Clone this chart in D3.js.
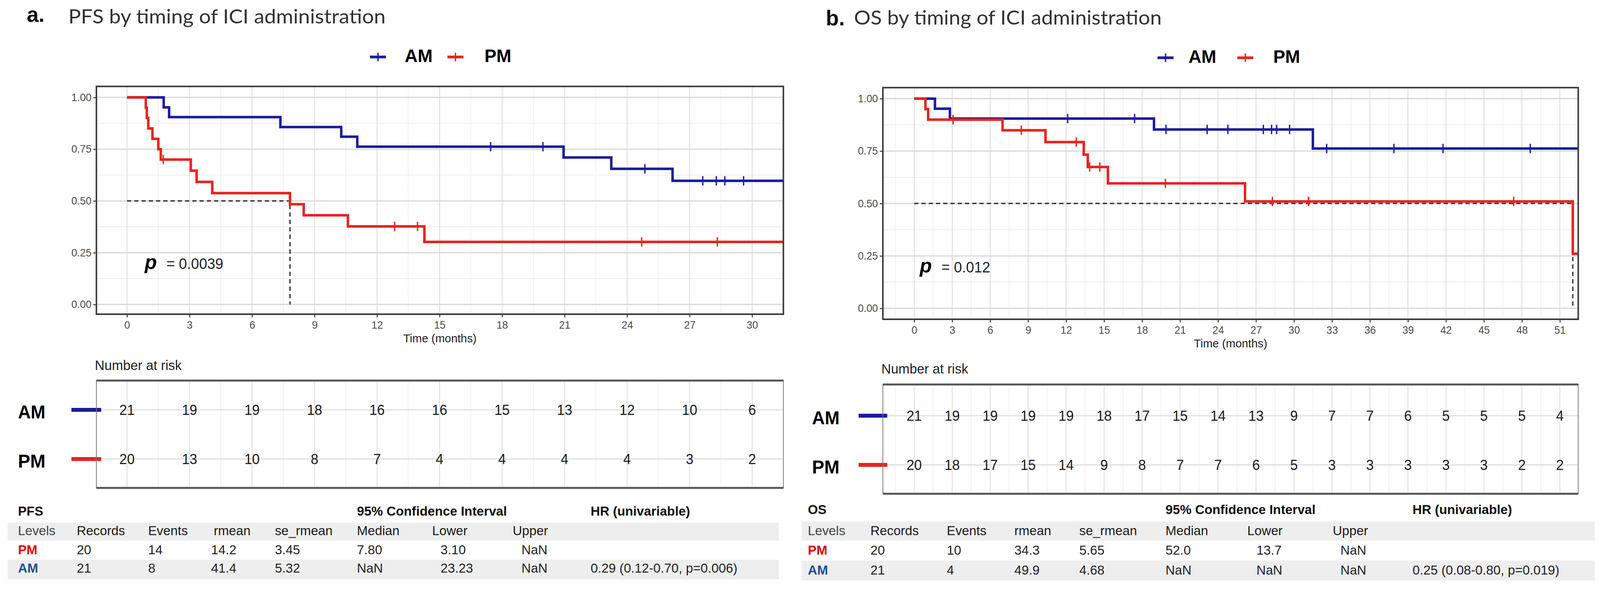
<!DOCTYPE html>
<html lang="en">
<head>
<meta charset="utf-8">
<title>PFS and OS by timing of ICI administration</title>
<script src="https://cdn.jsdelivr.net/npm/d3@7"></script>
<style>
  html, body { margin: 0; padding: 0; background: #fff; overflow: hidden; }
  svg { display: block; width: 100vw; height: 100vh; font-family: "Liberation Sans", Arial, sans-serif; }
</style>
</head>
<body>
<svg id="chart" viewBox="0 0 4191 1509" preserveAspectRatio="none"></svg>
<script>
// ---------- data ----------
var groups = ["AM", "PM"];
var panelTitles = ["PFS by timing of ICI administration", "OS by timing of ICI administration"];
var panelLetters = ["a.", "b."];
var pValues = ["0.0039", "0.012"];

// PFS (panel a)
var pfsTicks = [0, 3, 6, 9, 12, 15, 18, 21, 24, 27, 30];
var pfsAmTimes = [1.76, 2.02, 7.36, 10.28, 11.05, 20.95, 23.24, 26.18];
var pfsAmSurv  = [0.952, 0.905, 0.857, 0.810, 0.762, 0.710, 0.655, 0.597];
var pfsAmCens  = [17.45, 19.96, 24.85, 27.63, 28.28, 28.69, 29.59];
var pfsPmTimes = [0.90, 0.95, 1.02, 1.22, 1.50, 1.62, 3.06, 3.34, 4.09, 7.82, 8.48, 10.60, 14.27];
var pfsPmSurv  = [0.95, 0.90, 0.85, 0.80, 0.75, 0.70, 0.646, 0.592, 0.538, 0.484, 0.431, 0.377, 0.302];
var pfsPmCens  = [1.74, 12.84, 13.94, 24.70, 28.33];
var pfsMedian  = 7.82;
var pfsRiskAm  = [21, 19, 19, 18, 16, 16, 15, 13, 12, 10, 6];
var pfsRiskPm  = [20, 13, 10, 8, 7, 4, 4, 4, 4, 3, 2];

// OS (panel b)
var osTicks = [0, 3, 6, 9, 12, 15, 18, 21, 24, 27, 30, 33, 36, 39, 42, 45, 48, 51];
var osAmTimes = [1.64, 2.82, 18.94, 31.49];
var osAmSurv  = [0.952, 0.905, 0.853, 0.762];
var osAmCens  = [12.12, 17.41, 19.89, 23.14, 24.78, 27.58, 28.23, 28.63, 29.65, 32.58, 37.89, 41.77, 48.66];
var osPmTimes = [0.89, 1.10, 6.98, 10.37, 13.39, 13.71, 15.30, 26.13, 52.02];
var osPmSurv  = [0.95, 0.90, 0.849, 0.793, 0.733, 0.674, 0.596, 0.51, 0.26];
var osPmCens  = [3.07, 8.46, 12.80, 13.86, 14.66, 19.84, 28.29, 31.15, 31.15, 47.35];
var osMedian  = 52.02;
var osRiskAm  = [21, 19, 19, 19, 19, 18, 17, 15, 14, 13, 9, 7, 7, 6, 5, 5, 5, 4];
var osRiskPm  = [20, 18, 17, 15, 14, 9, 8, 7, 7, 6, 5, 3, 3, 3, 3, 3, 2, 2];

var yTicks = [0, 0.25, 0.5, 0.75, 1];

// summary tables
var statTitles = ["PFS", "OS"];
var statHeaders = ["Levels", "Records", "Events", "rmean", "se_rmean", "Median", "Lower", "Upper"];
var pfsStatPm = ["PM", "20", "14", "14.2", "3.45", "7.80", "3.10", "NaN"];
var pfsStatAm = ["AM", "21", "8", "41.4", "5.32", "NaN", "23.23", "NaN"];
var pfsHr = "0.29 (0.12-0.70, p=0.006)";
var osStatPm = ["PM", "20", "10", "34.3", "5.65", "52.0", "13.7", "NaN"];
var osStatAm = ["AM", "21", "4", "49.9", "4.68", "NaN", "NaN", "NaN"];
var osHr = "0.25 (0.08-0.80, p=0.019)";

// ---------- styles ----------
var colours = { AM: "#1c1c9e", PM: "#e8231d" };
var labelColours = { AM: "#1b4f93", PM: "#e60000" };

var svg = d3.select("#chart");

// survival value at time t for a step curve
function survAt(times, surv, t) {
	var s = 1;
	for (var i = 0; i < times.length; i++) {
		if (times[i] <= t) s = surv[i];
	}
	return s;
}

function drawPanel(cfg) {
	var g = svg.append("g");

	var x = d3.scaleLinear().domain(cfg.xDomain).range([cfg.left, cfg.right]);
	var y = d3.scaleLinear().domain(cfg.yDomain).range([cfg.bottom, cfg.top]);

	// titles
	g.append("text").attr("x", cfg.letterX).attr("y", cfg.letterY)
		.style("font-size", "56px").style("font-weight", "bold").attr("fill", "#111")
		.text(cfg.letter);
	g.append("text").attr("x", cfg.titleX).attr("y", cfg.titleY)
		.style("font-family", "Lato, 'Open Sans', sans-serif").style("font-size", "50px")
		.attr("fill", "#333")
		.attr("textLength", cfg.titleLen).attr("lengthAdjust", "spacingAndGlyphs")
		.text(cfg.title);

	// legend
	groups.forEach(function(grp, i) {
		var px = cfg.legendPlus[i];
		g.append("line").attr("x1", px - 21).attr("x2", px + 21)
			.attr("y1", cfg.legendY).attr("y2", cfg.legendY)
			.attr("stroke", colours[grp]).attr("stroke-width", 7);
		g.append("line").attr("x1", px).attr("x2", px)
			.attr("y1", cfg.legendY - 11).attr("y2", cfg.legendY + 11)
			.attr("stroke", colours[grp]).attr("stroke-width", 3.5);
		g.append("text").attr("x", cfg.legendText[i]).attr("y", cfg.legendY + 13)
			.style("font-size", "47px").style("font-weight", "bold").attr("fill", "#000")
			.text(grp);
	});

	// grid
	var xMinor = [];
	for (var k = 0; k < cfg.ticks.length; k++) xMinor.push(cfg.ticks[k] + 1.5);
	xMinor.unshift(-1.5);
	xMinor = xMinor.filter(function(v) { return v > cfg.xDomain[0] && v < cfg.xDomain[1]; });
	var yMinor = [0.125, 0.375, 0.625, 0.875];

	g.selectAll(".xminor").data(xMinor).enter().append("line")
		.attr("x1", function(d) { return x(d); }).attr("x2", function(d) { return x(d); })
		.attr("y1", cfg.top).attr("y2", cfg.bottom)
		.attr("stroke", "#ebebeb").attr("stroke-width", 1.5);
	g.selectAll(".yminor").data(yMinor).enter().append("line")
		.attr("x1", cfg.left).attr("x2", cfg.right)
		.attr("y1", function(d) { return y(d); }).attr("y2", function(d) { return y(d); })
		.attr("stroke", "#ebebeb").attr("stroke-width", 2);
	g.selectAll(".xmajor").data(cfg.ticks).enter().append("line")
		.attr("x1", function(d) { return x(d); }).attr("x2", function(d) { return x(d); })
		.attr("y1", cfg.top).attr("y2", cfg.bottom)
		.attr("stroke", "#d8d8d8").attr("stroke-width", 2);
	g.selectAll(".ymajor").data(yTicks).enter().append("line")
		.attr("x1", cfg.left).attr("x2", cfg.right)
		.attr("y1", function(d) { return y(d); }).attr("y2", function(d) { return y(d); })
		.attr("stroke", "#d8d8d8").attr("stroke-width", 3);

	// clip for the curves
	var clipId = "clip" + cfg.letter.replace(".", "");
	svg.append("clipPath").attr("id", clipId).append("rect")
		.attr("x", cfg.left).attr("y", cfg.top)
		.attr("width", cfg.right - cfg.left).attr("height", cfg.bottom - cfg.top);
	var plot = g.append("g").attr("clip-path", "url(#" + clipId + ")");

	// median lines
	var medPath = d3.line()([[x(0), y(0.5)], [x(cfg.median), y(0.5)], [x(cfg.median), y(0)]]);
	plot.append("path").attr("d", medPath).attr("fill", "none")
		.attr("stroke", "#333").attr("stroke-width", 3.5).attr("stroke-dasharray", "11,8");

	// curves, AM first then PM on top
	var step = d3.line().curve(d3.curveStepAfter)
		.x(function(d) { return x(d[0]); }).y(function(d) { return y(d[1]); });
	groups.forEach(function(grp) {
		var c = cfg.curves[grp];
		var pts = [[0, 1]];
		c.times.forEach(function(t, i) { pts.push([t, c.surv[i]]); });
		pts.push([cfg.xDomain[1], c.surv[c.surv.length - 1]]);
		plot.append("path").attr("d", step(pts)).attr("fill", "none")
			.attr("stroke", colours[grp]).attr("stroke-width", 6.5);
		plot.selectAll(".cens" + grp).data(c.cens).enter().append("line")
			.attr("x1", function(d) { return x(d); }).attr("x2", function(d) { return x(d); })
			.attr("y1", function(d) { return y(survAt(c.times, c.surv, d)) - 12; })
			.attr("y2", function(d) { return y(survAt(c.times, c.surv, d)) + 12; })
			.attr("stroke", colours[grp]).attr("stroke-width", 3.5);
	});

	// p value
	g.append("text").attr("x", cfg.pX).attr("y", y(0.171))
		.style("font-size", "52px").style("font-weight", "bold").style("font-style", "italic")
		.attr("fill", "#000").text("p");
	g.append("text").attr("x", cfg.pX + 57).attr("y", y(0.171))
		.style("font-size", "38px").attr("fill", "#222").text("= " + cfg.pValue);

	// frame
	g.append("rect").attr("x", cfg.left).attr("y", cfg.top)
		.attr("width", cfg.right - cfg.left).attr("height", cfg.bottom - cfg.top)
		.attr("fill", "none").attr("stroke", "#3a3a3a").attr("stroke-width", 4);

	// axes
	var yAxis = d3.axisLeft(y).tickValues(yTicks).tickFormat(d3.format(".2f"))
		.tickSize(8).tickPadding(5);
	var ya = g.append("g").attr("transform", "translate(" + cfg.left + ",0)").call(yAxis);
	var xAxis = d3.axisBottom(x).tickValues(cfg.ticks).tickFormat(d3.format("d"))
		.tickSize(8).tickPadding(10);
	var xa = g.append("g").attr("transform", "translate(0," + cfg.bottom + ")").call(xAxis);
	[ya, xa].forEach(function(a) {
		a.select(".domain").remove();
		a.selectAll("line").attr("stroke", "#333").attr("stroke-width", 2.5);
		a.selectAll("text").style("font-size", "27px").attr("fill", "#4a4a4a")
			.style("font-family", "'Liberation Sans', Arial, sans-serif");
	});
	g.append("text").attr("x", (cfg.left + cfg.right) / 2).attr("y", cfg.bottom + 72)
		.attr("text-anchor", "middle").style("font-size", "30px").attr("fill", "#222")
		.text("Time (months)");

	// ---------- number at risk ----------
	g.append("text").attr("x", cfg.left - 4).attr("y", cfg.riskTitleY)
		.style("font-size", "35px").attr("fill", "#222").text("Number at risk");
	var rt = cfg.riskTop, rb = cfg.riskBottom;
	g.selectAll(".rminor").data(xMinor).enter().append("line")
		.attr("x1", function(d) { return x(d); }).attr("x2", function(d) { return x(d); })
		.attr("y1", rt).attr("y2", rb).attr("stroke", "#ebebeb").attr("stroke-width", 1.5);
	g.selectAll(".rmajor").data(cfg.ticks).enter().append("line")
		.attr("x1", function(d) { return x(d); }).attr("x2", function(d) { return x(d); })
		.attr("y1", rt).attr("y2", rb).attr("stroke", "#dadada").attr("stroke-width", 2);
	groups.forEach(function(grp, i) {
		var ry = cfg.riskRows[i];
		g.append("line").attr("x1", cfg.left).attr("x2", cfg.right)
			.attr("y1", ry).attr("y2", ry).attr("stroke", "#e2e2e2").attr("stroke-width", 3.5);
		g.append("line").attr("x1", cfg.riskBar[0]).attr("x2", cfg.riskBar[1])
			.attr("y1", ry).attr("y2", ry).attr("stroke", colours[grp]).attr("stroke-width", 10);
		g.append("text").attr("x", cfg.riskLabelX).attr("y", ry + 22)
			.style("font-size", "48px").style("font-weight", "bold").attr("fill", "#000")
			.attr("textLength", 72).attr("lengthAdjust", "spacingAndGlyphs")
			.text(grp);
		g.selectAll(".risk" + grp).data(cfg.risk[grp]).enter().append("text")
			.attr("x", function(d, j) { return x(cfg.ticks[j]); })
			.attr("y", ry + 13)
			.attr("text-anchor", "middle").style("font-size", "36px").attr("fill", "#1a1a1a")
			.text(function(d) { return d; });
	});
	g.append("rect").attr("x", cfg.left).attr("y", rt)
		.attr("width", cfg.right - cfg.left).attr("height", rb - rt)
		.attr("fill", "none").attr("stroke", "#777").attr("stroke-width", 2);
	g.append("line").attr("x1", cfg.left).attr("x2", cfg.right).attr("y1", rt).attr("y2", rt)
		.attr("stroke", "#555").attr("stroke-width", 5);
	g.append("line").attr("x1", cfg.left).attr("x2", cfg.right).attr("y1", rb).attr("y2", rb)
		.attr("stroke", "#555").attr("stroke-width", 5);

	// ---------- summary table ----------
	var st = cfg.stat;
	g.append("rect").attr("x", st.bandX[0]).attr("y", st.band1[0])
		.attr("width", st.bandX[1] - st.bandX[0]).attr("height", st.band1[1] - st.band1[0])
		.attr("fill", "#eeeeee");
	g.append("rect").attr("x", st.bandX[0]).attr("y", st.band2[0])
		.attr("width", st.bandX[1] - st.bandX[0]).attr("height", st.band2[1] - st.band2[0])
		.attr("fill", "#eeeeee");
	var bold = function(sel) { return sel.style("font-size", "34px").style("font-weight", "bold").attr("fill", "#111"); };
	bold(g.append("text").attr("x", st.headX[0]).attr("y", st.titleY).text(cfg.statTitle));
	bold(g.append("text").attr("x", st.headX[5]).attr("y", st.titleY).text("95% Confidence Interval"));
	bold(g.append("text").attr("x", st.hrX).attr("y", st.titleY).text("HR (univariable)"));
	g.selectAll(".hdr").data(statHeaders).enter().append("text")
		.attr("x", function(d, j) { return st.headX[j]; }).attr("y", st.headY)
		.style("font-size", "34px").attr("fill", function(d, j) { return j === 0 ? "#444" : "#1a1a1a"; })
		.text(function(d) { return d; });
	[cfg.statRows.PM, cfg.statRows.AM].forEach(function(row, r) {
		var grp = r === 0 ? "PM" : "AM";
		var ty = st.rowY[r];
		g.selectAll(".row" + grp).data(row).enter().append("text")
			.attr("x", function(d, j) { return st.valX[j]; }).attr("y", ty)
			.style("font-size", "34px")
			.style("font-weight", function(d, j) { return j === 0 ? "bold" : "normal"; })
			.attr("fill", function(d, j) { return j === 0 ? labelColours[grp] : "#222"; })
			.text(function(d) { return d; });
	});
	g.append("text").attr("x", st.hrX).attr("y", st.rowY[1])
		.style("font-size", "34px").attr("fill", "#222").text(cfg.hr);
}

drawPanel({
	letter: panelLetters[0], letterX: 70, letterY: 56,
	title: panelTitles[0], titleX: 179, titleY: 60, titleLen: 831,
	legendPlus: [990, 1193], legendText: [1060, 1269], legendY: 146,
	left: 252.5, right: 2052, top: 221.4, bottom: 805,
	xDomain: [-1.47, 31.5], yDomain: [-0.047, 1.053],
	ticks: pfsTicks, median: pfsMedian, pValue: pValues[0], pX: 379,
	curves: {
		AM: { times: pfsAmTimes, surv: pfsAmSurv, cens: pfsAmCens },
		PM: { times: pfsPmTimes, surv: pfsPmSurv, cens: pfsPmCens }
	},
	riskTitleY: 948, riskTop: 975, riskBottom: 1250, riskRows: [1050, 1176],
	riskLabelX: 47, riskBar: [187, 265],
	risk: { AM: pfsRiskAm, PM: pfsRiskPm },
	statTitle: statTitles[0],
	statRows: { PM: pfsStatPm, AM: pfsStatAm }, hr: pfsHr,
	stat: {
		titleY: 1321, headY: 1371, rowY: [1420, 1467],
		band1: [1339, 1385], band2: [1434, 1484], bandX: [20, 2040],
		headX: [47, 201, 388, 560, 720, 935, 1132, 1343],
		valX: [47, 201, 388, 553, 720, 935, 1154, 1366],
		hrX: 1547
	}
});

drawPanel({
	letter: panelLetters[1], letterX: 2163, letterY: 65,
	title: panelTitles[1], titleX: 2237, titleY: 63, titleLen: 806,
	legendPlus: [3053, 3262], legendText: [3113, 3335], legendY: 148,
	left: 2312.6, right: 4134, top: 224.5, bottom: 818,
	xDomain: [-2.473, 52.45], yDomain: [-0.0521, 1.0525],
	ticks: osTicks, median: osMedian, pValue: pValues[1], pX: 2409,
	curves: {
		AM: { times: osAmTimes, surv: osAmSurv, cens: osAmCens },
		PM: { times: osPmTimes, surv: osPmSurv, cens: osPmCens }
	},
	riskTitleY: 957, riskTop: 985, riskBottom: 1265, riskRows: [1065, 1191],
	riskLabelX: 2127, riskBar: [2249, 2324],
	risk: { AM: osRiskAm, PM: osRiskPm },
	statTitle: statTitles[1],
	statRows: { PM: osStatPm, AM: osStatAm }, hr: osHr,
	stat: {
		titleY: 1317, headY: 1371, rowY: [1421, 1472],
		band1: [1336, 1385], band2: [1436, 1487], bandX: [2100, 4177],
		headX: [2116, 2280, 2480, 2657, 2827, 3053, 3267, 3491],
		valX: [2116, 2280, 2480, 2657, 2827, 3053, 3291, 3511],
		hrX: 3700
	}
});
</script>
</body>
</html>
